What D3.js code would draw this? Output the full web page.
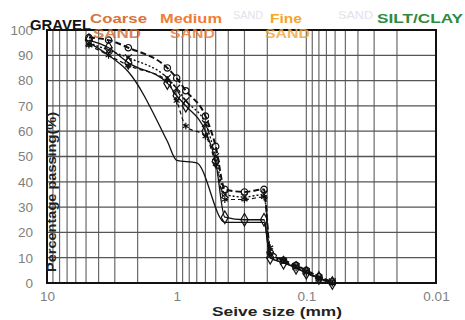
<!DOCTYPE html>
<html lang="en">
<head>
<meta charset="UTF-8">
<script src="https://cdn.jsdelivr.net/npm/d3@7"></script>
<style>
    body { margin: 0; background: #fff; }
    svg { display: block; font-family: "Liberation Sans", Arial, sans-serif; }
</style>
</head>
<body>
<svg width="465" height="320"></svg>
<script>
    // sieve sizes (mm) then hydrometer sizes
    var sizes = [4.75, 3.35, 2.36, 1.18, 1.0, 0.85, 0.6, 0.5, 0.425, 0.3, 0.212, 0.19, 0.15, 0.12, 0.1, 0.08, 0.063];
    var plainSizes = [4.75, 3.35, 2.36, 1.18, 1.0, 0.7, 0.425, 0.212, 0.19, 0.15, 0.12, 0.1, 0.08, 0.063];

    var plainValues   = [95, 90, 83.5, 56, 48.5, 47.5, 24, 24, 10, 8, 6, 4, 2, 0];
    var diamondValues = [96, 93, 87, 79, 74, 70, 60, 48, 26, 25, 25, 10, 8, 6, 4, 2, 0];
    var circleValues  = [97, 96, 93, 85, 81, 76, 66, 54, 37, 36, 37, 12, 9, 7, 5, 2.5, 0.5];
    var crossValues   = [95, 92, 89, 81, 77, 72, 63, 50, 35, 34, 35, 11, 8.5, 6.5, 4.5, 2, 0.5];
    var starValues    = [94, 90, 86, 80, 72, 62, 58, 47, 33, 33, 34, 14, 9, 6, 4, 1.5, 0];

    var xTickValues = [10, 1, 0.1, 0.01];
    var yTickValues = [0, 10, 20, 30, 40, 50, 60, 70, 80, 90, 100];

    var svg = d3.select("svg");
    var plot = {left: 47, right: 436, top: 30, bottom: 283};

    var x = d3.scaleLog().domain([10, 0.01]).range([plot.left, plot.right]);
    var y = d3.scaleLinear().domain([0, 100]).range([plot.bottom, plot.top]);

    // grid
    svg.append("g").selectAll("line")
        .data(x.ticks())
        .enter().append("line")
        .attr("x1", function (d) { return x(d); })
        .attr("x2", function (d) { return x(d); })
        .attr("y1", plot.top).attr("y2", plot.bottom)
        .attr("stroke", "#6a6a6a").attr("stroke-width", 1.2);
    svg.append("g").selectAll("line")
        .data(yTickValues)
        .enter().append("line")
        .attr("x1", plot.left).attr("x2", plot.right)
        .attr("y1", function (d) { return y(d); })
        .attr("y2", function (d) { return y(d); })
        .attr("stroke", "#555").attr("stroke-width", 1.3);

    // axes labels
    var yAxis = svg.append("g")
        .attr("transform", "translate(" + plot.left + ",0)")
        .call(d3.axisLeft(y).tickValues(yTickValues).tickSize(0).tickPadding(14));
    var xAxis = svg.append("g")
        .attr("transform", "translate(0," + plot.bottom + ")")
        .call(d3.axisBottom(x).tickValues(xTickValues).tickFormat(d3.format("~g")).tickSize(0).tickPadding(8));
    [xAxis, yAxis].forEach(function (a) {
        a.select(".domain").remove();
        a.selectAll("text").attr("fill", "#7f7f7f").style("font-size", "13.5px")
            .style("font-family", "'Liberation Sans', Arial, sans-serif");
    });

    svg.append("rect")
        .attr("x", plot.left).attr("y", plot.top)
        .attr("width", plot.right - plot.left).attr("height", plot.bottom - plot.top)
        .attr("fill", "none").attr("stroke", "#111").attr("stroke-width", 2);

    // curves
    var series = [
        {sz: plainSizes, v: plainValues, dash: null, w: 1.3, sym: null},
        {sz: sizes, v: diamondValues, dash: null, w: 1.3, sym: d3.symbolDiamond},
        {sz: sizes, v: circleValues, dash: "6,3", w: 2, sym: d3.symbolCircle},
        {sz: sizes, v: crossValues, dash: "2,2", w: 1.4, sym: d3.symbolTimes || d3.symbolCross},
        {sz: sizes, v: starValues, dash: "4,3", w: 1.2, sym: d3.symbolAsterisk || d3.symbolCross}
    ];
    var line = d3.line()
        .x(function (d) { return x(d[0]); })
        .y(function (d) { return y(d[1]); })
        .curve(d3.curveMonotoneX);

    series.forEach(function (s) {
        var pts = s.sz.map(function (d, i) { return [d, s.v[i]]; });
        svg.append("path")
            .datum(pts)
            .attr("d", line)
            .attr("fill", "none")
            .attr("stroke", "#111")
            .attr("stroke-width", s.w)
            .attr("stroke-dasharray", s.dash);
        if (s.sym) {
            svg.append("g").selectAll("path")
                .data(pts)
                .enter().append("path")
                .attr("transform", function (d) { return "translate(" + x(d[0]) + "," + y(d[1]) + ")"; })
                .attr("d", d3.symbol().type(s.sym).size(s.sym === d3.symbolDiamond ? 45 : 32))
                .attr("fill", "none")
                .attr("stroke", "#111")
                .attr("stroke-width", 1.2);
        }
    });

    // titles
    function label(t, xPos, yPos, size, color, len, weight) {
        return svg.append("text")
            .attr("x", xPos).attr("y", yPos)
            .attr("fill", color)
            .attr("textLength", len).attr("lengthAdjust", "spacingAndGlyphs")
            .style("font-size", size + "px")
            .style("font-weight", weight || "bold")
            .text(t);
    }
    label("SAND", 233, 19, 10, "#e2e2ea", 30, "normal");
    label("SAND", 338, 19, 10, "#e2e2ea", 35, "normal");
    label("GRAVEL", 30, 30, 14, "#111", 61);
    label("Coarse", 90, 23, 13, "#d9733c", 57);
    label("SAND", 93, 38, 12, "#cf6a35", 48).attr("opacity", 0.8);
    label("Medium", 160, 23, 13, "#ef7d32", 62);
    label("SAND", 170, 38, 12, "#ec7a32", 45).attr("opacity", 0.8);
    label("Fine", 270, 23, 13, "#f4a52a", 32);
    label("SAND", 265, 38, 12, "#f0a535", 45).attr("opacity", 0.8);
    label("SILT/CLAY", 377, 23, 13, "#2f8a3c", 86);

    label("Seive size (mm)", 212, 316, 13, "#222", 130);
    svg.append("text")
        .attr("transform", "translate(56,192) rotate(-90)")
        .attr("text-anchor", "middle")
        .attr("fill", "#222")
        .attr("textLength", 160).attr("lengthAdjust", "spacingAndGlyphs")
        .style("font-size", "12px")
        .style("font-weight", "bold")
        .text("Percentage passing(%)");
</script>
</body>
</html>
